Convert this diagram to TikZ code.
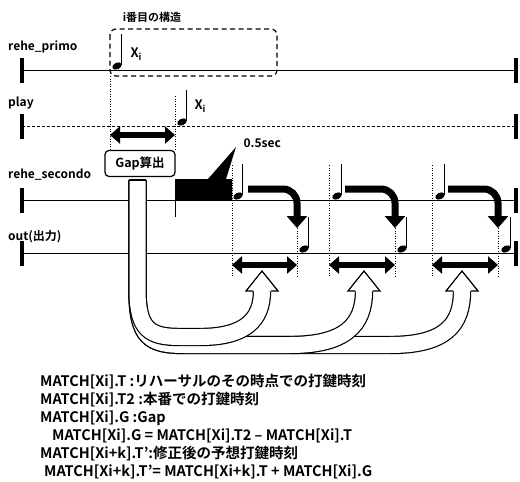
\documentclass[tikz,border=0pt]{standalone}
\usepackage{fontspec}
\setmainfont{Noto Sans CJK JP}[BoldFont={* Bold}]
\usetikzlibrary{arrows.meta, positioning}

% hollow arrow head at the end of a band
\newcommand{\hollowhead}[1]{%
  \fill[white] (#1-16,291) -- (#1,271) -- (#1+16,291) -- cycle;
  \draw[line width=1.2pt, line join=miter] (#1-9,291) -- (#1-16,291) -- (#1,271) -- (#1+16,291) -- (#1+9,291);}

\begin{document}
\begin{tikzpicture}[
    x=1pt, y=-1pt,
    tline/.style={line width=1pt},
    playdash/.style={dash pattern=on 3pt off 2pt},
    tbar/.style={line width=3.5pt},
    lbl/.style={anchor=west, inner sep=0pt, font=\bfseries\fontsize{12}{14}\selectfont},
    dotv/.style={line width=0.8pt, dash pattern=on 1pt off 1.5pt},
    dblarrow/.style={line width=6.5pt, {Triangle[width=17pt,length=10pt]}-{Triangle[width=17pt,length=10pt]}},
    bendarrow/.style={line width=7pt, -{Triangle[width=20pt,length=12pt]}, rounded corners=14pt},
    band/.style={line width=1.2pt, double=white, double distance=16pt},
    memo/.style={anchor=west, inner sep=0pt, font=\bfseries\fontsize{14.5}{16}\selectfont},
    notemark/.pic={
        \fill[rotate=25] (0,0) ellipse (5pt and 3.3pt);
        \draw[line width=1.4pt] (4.7,-1) -- (4.7,-32);}
]
    \useasboundingbox (0,0) rectangle (520,482);

    % time lines
    \foreach \nm/\ty/\txt/\ly/\st in {primo/70/rehe\_primo/47/solid, play/126/play/103/playdash,
                                      secondo/200/rehe\_secondo/175/solid, out/253/out(出力)/237/solid} {
        \coordinate (\nm L) at (22,\ty);
        \coordinate (\nm R) at (516,\ty);
        \node[lbl] (\nm lbl) at (8,\ly) {\txt};
        \draw[tline, \st] (\nm L) -- (\nm R);
        \draw[tbar] (22,\ty-12) -- (22,\ty+13);
        \draw[tbar] (516,\ty-12) -- (516,\ty+13);
    }

    % i-th structure
    \draw[line width=1.2pt, dash pattern=on 5pt off 3.5pt, rounded corners=6pt] (110,29) rectangle (277,76);
    \node[font=\bfseries\fontsize{11}{12}\selectfont] (structure) at (152,17) {i番目の構造};

    \pic at (117,66) {notemark};
    \node[anchor=west, font=\bfseries\fontsize{13}{13}\selectfont] (xprimo) at (127,54) {X\textsubscript{i}};
    \pic at (182,122) {notemark};
    \node[anchor=west, font=\bfseries\fontsize{13}{13}\selectfont] (xplay) at (191,106) {X\textsubscript{i}};

    % gap measurement
    \draw[dotv] (110,76) -- (110,150);
    \draw[dotv] (175,96) -- (175,150);
    \coordinate (gapL) at (110,135);
    \coordinate (gapR) at (175,135);
    \draw[dblarrow] (gapL) -- (gapR);
    \node[draw, line width=1.2pt, rounded corners=4pt, minimum width=70pt, minimum height=26pt,
          font=\bfseries\fontsize{12.5}{14}\selectfont] (gap) at (140,163.5) {Gap算出};

    % 0.5sec block
    \fill (175,179) -- (208,179) -- (236,147) -- (226,179) -- (232,179) -- (232,200) -- (175,200) -- cycle;
    \node[anchor=west, font=\bfseries\fontsize{12}{12}\selectfont] (halfsec) at (240,143) {0.5sec};
    \draw[line width=0.8pt] (175,180) -- (175,217);

    % rehearsal notes and shifted output notes
    \foreach \nx/\ox/\dl/\dr in {238/304/232/297, 337/402/329/395, 440/506/432/498} {
        \pic at (\nx,196) {notemark};
        \pic at (\ox,249) {notemark};
        \draw[dotv] (\dl,165) -- (\dl,277);
        \draw[dotv] (\dr,218) -- (\dr,277);
        \coordinate (bs\dl) at (\dl+16,189);
        \coordinate (bc\dl) at (\dr,189);
        \coordinate (be\dl) at (\dr,228);
        \draw[bendarrow] (bs\dl) -- (bc\dl) -- (be\dl);
        \coordinate (ol\dl) at (\dl,265);
        \coordinate (or\dl) at (\dr,265);
        \draw[dblarrow] (ol\dl) -- (or\dl);
    }

    % gap feedback bands
    \draw[band] (137.5,180) -- (137.5,290) .. controls (137.5,338) and (150,345) .. (185,345) -- (390,345)
        .. controls (445,345) and (462,325) .. (462,291);
    \draw[band] (137.5,180) -- (137.5,290) .. controls (137.5,338) and (150,345) .. (185,345) -- (290,345)
        .. controls (345,345) and (364,325) .. (364,291);
    \draw[band] (137.5,180) -- (137.5,290) .. controls (137.5,330) and (150,337) .. (180,337) -- (200,337)
        .. controls (245,337) and (262,320) .. (262,291);
    \draw[line width=1.2pt] (128.9,180) -- (146.1,180);
    \hollowhead{262}
    \hollowhead{364}
    \hollowhead{462}

    % legend
    \node[memo] (m1) at (40,382) {MATCH[Xi].T :リハーサルのその時点での打鍵時刻};
    \node[memo] (m2) at (40,400) {MATCH[Xi].T2 :本番での打鍵時刻};
    \node[memo] (m3) at (40,418) {MATCH[Xi].G :Gap};
    \node[memo] (m4) at (52,436) {MATCH[Xi].G = MATCH[Xi].T2 – MATCH[Xi].T};
    \node[memo] (m5) at (40,454) {MATCH[Xi+k].T':修正後の予想打鍵時刻};
    \node[memo] (m6) at (44,472) {MATCH[Xi+k].T'= MATCH[Xi+k].T + MATCH[Xi].G};
\end{tikzpicture}
\end{document}
